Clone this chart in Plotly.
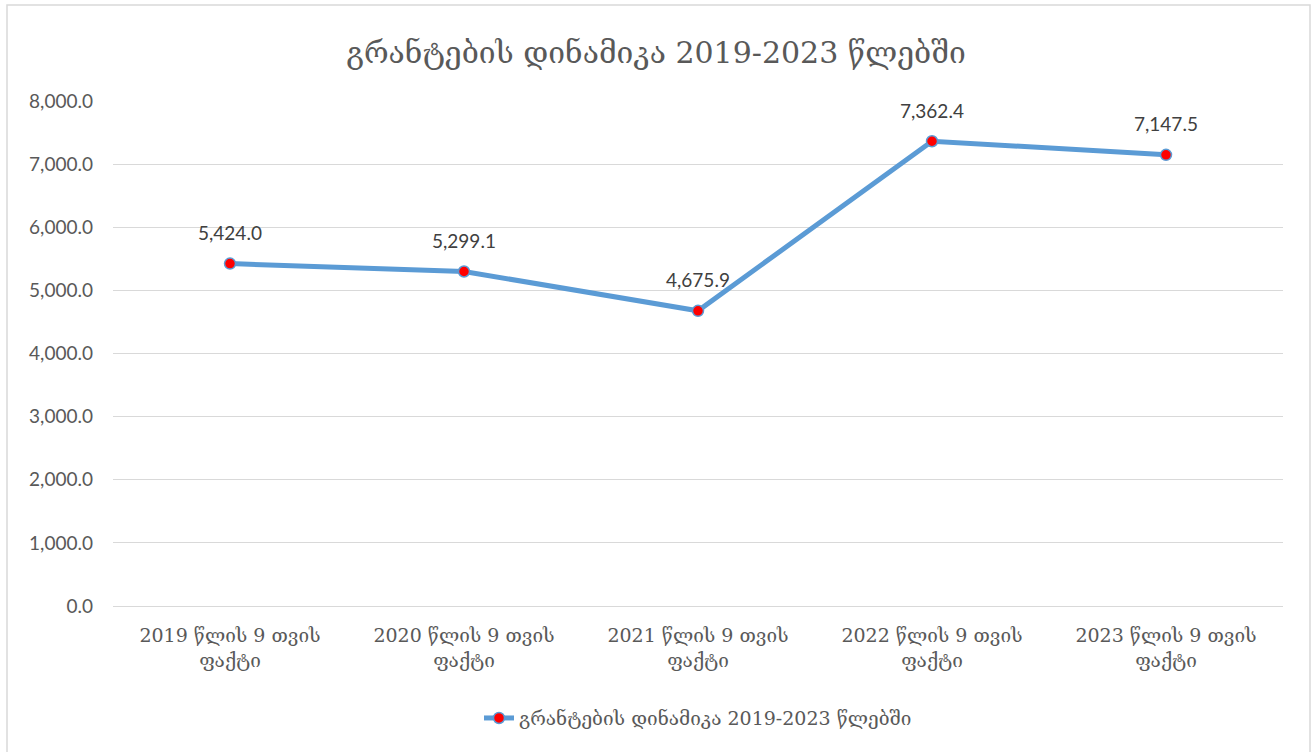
import plotly.graph_objects as go

categories = ["2019 წლის 9 თვის<br>ფაქტი", "2020 წლის 9 თვის<br>ფაქტი", "2021 წლის 9 თვის<br>ფაქტი",
              "2022 წლის 9 თვის<br>ფაქტი", "2023 წლის 9 თვის<br>ფაქტი"]
values = [5424.0, 5299.1, 4675.9, 7362.4, 7147.5]
series_name = "გრანტების დინამიკა 2019-2023 წლებში"
title_text = "გრანტების დინამიკა 2019-2023 წლებში"
y_ticks = [0, 1000, 2000, 3000, 4000, 5000, 6000, 7000, 8000]

GEO_FONT = "DejaVu Serif, Noto Sans, serif"
NUM_FONT = "Lato, Open Sans, sans-serif"

fig = go.Figure()
fig.add_trace(go.Scatter(
    x=categories, y=values, mode="lines+markers", name=series_name,
    line=dict(color="#5B9BD5", width=5),
    marker=dict(color="#FF0000", size=11, line=dict(color="#5B9BD5", width=1.5)),
    hoverinfo="x+y",
))

for c, v in zip(categories, values):
    fig.add_annotation(x=c, y=v, text=f"{v:,.1f}", showarrow=False, yshift=31,
                       font=dict(family=NUM_FONT, size=19, color="#404040"))

fig.update_layout(
    width=1312, height=752,
    paper_bgcolor="white", plot_bgcolor="white",
    margin=dict(l=113, r=29, t=101, b=146),
    title=dict(text=title_text, x=0.5, xanchor="center", y=0.93, yanchor="middle",
               font=dict(family=GEO_FONT, size=30, color="#595959")),
    showlegend=True,
    legend=dict(orientation="h", x=0.5, xanchor="center", y=-0.222, yanchor="middle",
                font=dict(family=GEO_FONT, size=19, color="#595959")),
    xaxis=dict(type="category", showgrid=False, showline=True, linecolor="#D9D9D9",
               linewidth=1, ticks="", ticklabelstandoff=12,
               tickfont=dict(family=GEO_FONT, size=19, color="#595959"),
               range=[-0.5, 4.5]),
    yaxis=dict(range=[0, 8000], tickvals=y_ticks, tickformat=",.1f",
               showgrid=True, gridcolor="#D9D9D9", gridwidth=1, zeroline=False,
               ticks="", ticklen=0, ticklabelstandoff=19,
               tickfont=dict(family=NUM_FONT, size=19, color="#595959"),
               showline=False),
)

fig.add_shape(type="rect", xref="paper", yref="paper",
              x0=(7 - 113) / 1170, x1=(1310 - 113) / 1170,
              y0=(606 - 770) / 505, y1=(606 - 5) / 505,
              line=dict(color="#D9D9D9", width=1.5), fillcolor="rgba(0,0,0,0)", layer="below")

fig.write_html("out.html", config={"displayModeBar": False},
               post_script="document.body.style.margin='0';document.body.style.overflow='hidden';")
